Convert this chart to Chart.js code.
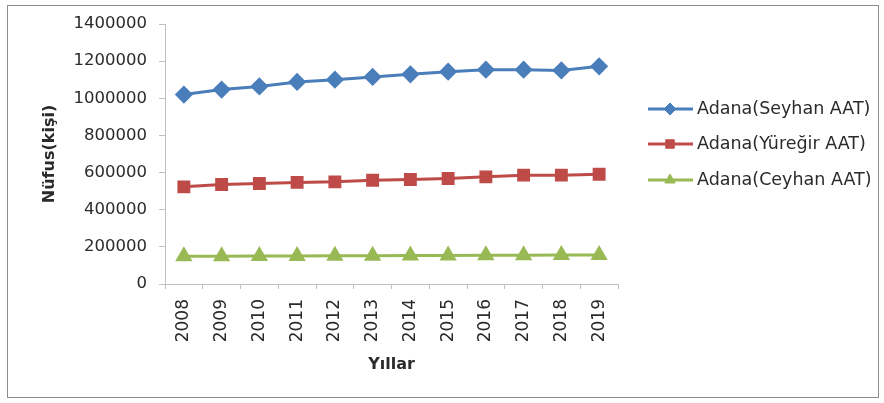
<!DOCTYPE html>
<html>
<head>
<meta charset="utf-8">
<script src="https://cdn.jsdelivr.net/npm/chart.js@4/dist/chart.umd.min.js"></script>
<style>
  html, body { margin: 0; padding: 0; background: #ffffff; }
  #wrap { width: 884px; height: 403px; position: relative; }
</style>
</head>
<body>
<div id="wrap"><canvas id="c" width="884" height="403"></canvas></div>
<script>
// Yıllara göre nüfus (kişi)
const years = ['2008','2009','2010','2011','2012','2013','2014','2015','2016','2017','2018','2019'];
const seyhan  = [1020000, 1047000, 1064000, 1088000, 1100000, 1115000, 1129000, 1143000, 1154000, 1154000, 1150000, 1172000];
const yuregir = [523000, 536000, 541000, 547000, 550000, 559000, 563000, 568000, 577000, 586000, 586000, 591000];
const ceyhan  = [150000, 149000, 151000, 151000, 152000, 152000, 153000, 154000, 155000, 155000, 156000, 156000];
const seriesNames = ['Adana(Seyhan AAT)', 'Adana(Yüreğir AAT)', 'Adana(Ceyhan AAT)'];
const yTicks = [0, 200000, 400000, 600000, 800000, 1000000, 1200000, 1400000];

const FONT = 'DejaVu Sans';
const AXIS_GRAY = '#bfbfbf';
const TEXT = '#2b2b2b';

// Çerçeve
const framePlugin = {
  id: 'frame',
  beforeDraw(chart) {
    const ctx = chart.ctx;
    ctx.save();
    ctx.fillStyle = '#ffffff';
    ctx.fillRect(0, 0, chart.width, chart.height);
    ctx.strokeStyle = '#8c8c8c';
    ctx.lineWidth = 1;
    ctx.strokeRect(7.5, 5.5, 871, 392);
    ctx.restore();
  }
};

// Sağdaki açıklama (çizgi + işaret + metin)
const sideLegend = {
  id: 'sideLegend',
  afterDraw(chart) {
    const ctx = chart.ctx;
    const rows = [109, 144, 180];
    ctx.save();
    chart.data.datasets.forEach((ds, i) => {
      const y = rows[i];
      ctx.strokeStyle = ds.borderColor;
      ctx.lineWidth = 3;
      ctx.beginPath();
      ctx.moveTo(648, y);
      ctx.lineTo(693, y);
      ctx.stroke();
      ctx.fillStyle = ds.borderColor;
      ctx.strokeStyle = ds.borderColor;
      ctx.lineWidth = 1;
      Chart.helpers.drawPoint(ctx, {
        pointStyle: ds.pointStyle,
        radius: ds.pointRadius - 1,
        rotation: 0,
        borderWidth: 1
      }, 670, y);
      ctx.fillStyle = TEXT;
      ctx.font = '17.5px "' + FONT + '"';
      ctx.textBaseline = 'middle';
      ctx.textAlign = 'left';
      ctx.fillText(ds.label, 697, y);
    });
    ctx.restore();
  }
};

function mk(label, data, color, style, r) {
  return {
    label, data,
    borderColor: color,
    backgroundColor: color,
    pointBackgroundColor: color,
    pointBorderColor: color,
    borderWidth: 3,
    pointStyle: style,
    pointRadius: r,
    pointHoverRadius: r,
    tension: 0
  };
}

new Chart(document.getElementById('c'), {
  type: 'line',
  data: {
    labels: years,
    datasets: [
      mk(seriesNames[0], seyhan, '#4a7ebb', 'rectRot', 7),
      mk(seriesNames[1], yuregir, '#be4b48', 'rect', 7),
      mk(seriesNames[2], ceyhan, '#98b954', 'triangle', 7)
    ]
  },
  options: {
    responsive: false,
    animation: false,
    layout: { padding: { left: 36, top: 24, right: 266, bottom: 29 } },
    plugins: {
      legend: { display: false },
      tooltip: { enabled: false }
    },
    scales: {
      x: {
        offset: true,
        grid: { display: true, drawOnChartArea: false, drawTicks: true, tickLength: 5, color: AXIS_GRAY, offset: true },
        border: { display: true, color: AXIS_GRAY, width: 1 },
        ticks: {
          color: TEXT, maxRotation: 90, minRotation: 90, padding: 10,
          font: { family: FONT, size: 17 }
        },
        title: {
          display: true, text: 'Yıllar', color: TEXT, padding: { top: 0, bottom: 0 },
          font: { family: FONT, size: 16, weight: 'bold' }
        },
        afterFit(scale) { scale.height = 90; }
      },
      y: {
        min: 0, max: 1400000,
        afterBuildTicks(scale) { scale.ticks = yTicks.map(v => ({ value: v })); },
        grid: { display: true, drawOnChartArea: false, drawTicks: true, tickLength: 6, color: AXIS_GRAY },
        border: { display: true, color: AXIS_GRAY, width: 1 },
        ticks: {
          color: TEXT, padding: 12,
          font: { family: FONT, size: 16.5 },
          callback: v => String(v)
        },
        title: {
          display: true, text: 'Nüfus(kişi)', color: TEXT, padding: { top: 4, bottom: 0 },
          font: { family: FONT, size: 16, weight: 'bold' }
        },
        afterFit(scale) { scale.width = 129; }
      }
    }
  },
  plugins: [framePlugin, sideLegend]
});
</script>
</body>
</html>
